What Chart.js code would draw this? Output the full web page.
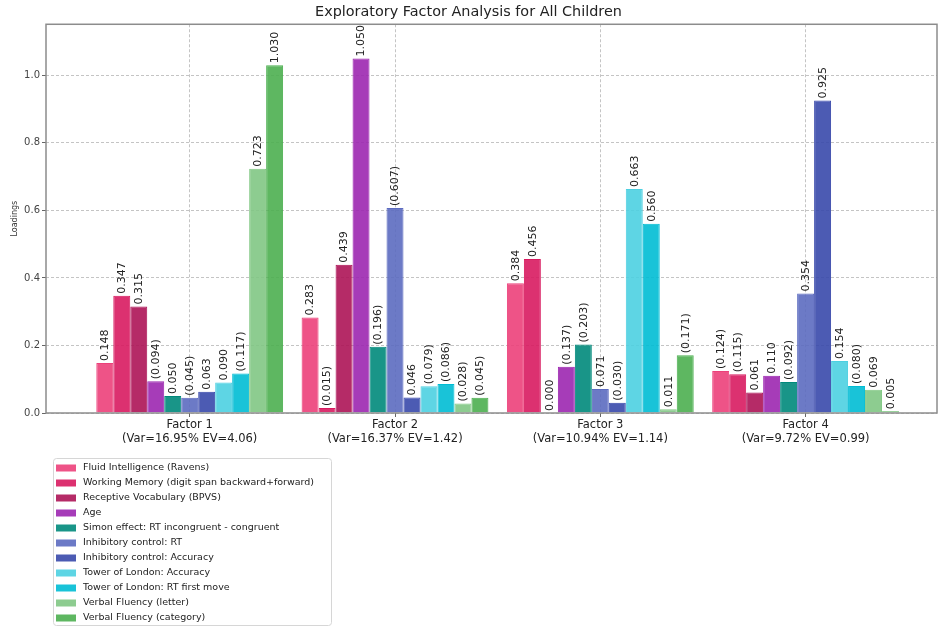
<!DOCTYPE html>
<html>
<head>
<meta charset="utf-8">
<script src="https://cdn.jsdelivr.net/npm/chart.js@4/dist/chart.umd.min.js"></script>
<style>
  html, body { margin: 0; padding: 0; background: #fff; }
  #wrap { width: 939px; height: 626px; }
</style>
</head>
<body>
<div id="wrap"><canvas id="efaChart" width="939" height="626"></canvas></div>
<script>
// factor labels (two lines under each group)
const factorNames = ['Factor 1', 'Factor 2', 'Factor 3', 'Factor 4'];
const factorStats = ['(Var=16.95% EV=4.06)', '(Var=16.37% EV=1.42)', '(Var=10.94% EV=1.14)', '(Var=9.72% EV=0.99)'];

const measureNames = [
    'Fluid Intelligence (Ravens)',
    'Working Memory (digit span backward+forward)',
    'Receptive Vocabulary (BPVS)',
    'Age',
    'Simon effect: RT incongruent - congruent',
    'Inhibitory control: RT',
    'Inhibitory control: Accuracy',
    'Tower of London: Accuracy',
    'Tower of London: RT first move',
    'Verbal Fluency (letter)',
    'Verbal Fluency (category)'
];
const measureColors = ['#EC407A', '#D81B60', '#AD1457', '#9C27B0', '#00897B', '#5C6BC0',
                       '#3949AB', '#4DD0E1', '#00BCD4', '#81C784', '#4CAF50'];

// signed loadings, one array per measure (Factor 1..4); bars use |loading|
const fluidIntelligence   = [0.148, 0.283, 0.384, -0.124];
const workingMemory       = [0.347, -0.015, 0.456, -0.115];
const receptiveVocabulary = [0.315, 0.439, 0.000, 0.061];
const age                 = [-0.094, 1.050, -0.137, 0.110];
const simonEffect         = [0.050, -0.196, -0.203, -0.092];
const inhibitoryRT        = [-0.045, -0.607, 0.071, 0.354];
const inhibitoryAccuracy  = [0.063, 0.046, -0.030, 0.925];
const towerAccuracy       = [0.090, -0.079, 0.663, 0.154];
const towerRTFirstMove    = [-0.117, -0.086, 0.560, -0.080];
const fluencyLetter       = [0.723, -0.028, 0.011, 0.069];
const fluencyCategory     = [1.030, -0.045, -0.171, 0.005];

const loadings = [fluidIntelligence, workingMemory, receptiveVocabulary, age, simonEffect,
                  inhibitoryRT, inhibitoryAccuracy, towerAccuracy, towerRTFirstMove,
                  fluencyLetter, fluencyCategory];

const yTicks = [0.0, 0.2, 0.4, 0.6, 0.8, 1.0];

const FONT = "'DejaVu Sans', sans-serif";

function withAlpha(hex, a) {
    const n = parseInt(hex.slice(1), 16);
    return `rgba(${(n >> 16) & 255}, ${(n >> 8) & 255}, ${n & 255}, ${a})`;
}

const datasets = measureNames.map((name, k) => ({
    label: name,
    data: loadings[k].map((v, i) => ({ x: i, y: Math.abs(v) })),
    signed: loadings[k],
    backgroundColor: withAlpha(measureColors[k], 0.9),
    borderColor: measureColors[k],
    borderWidth: 1,
    barPercentage: 1.0,
    categoryPercentage: 0.91
}));

// rotated value labels above every bar, negatives in parentheses
const valueLabels = {
    id: 'valueLabels',
    afterDatasetsDraw(chart) {
        const ctx = chart.ctx;
        ctx.save();
        ctx.font = `11px ${FONT}`;
        ctx.fillStyle = '#222';
        ctx.textAlign = 'left';
        ctx.textBaseline = 'middle';
        chart.data.datasets.forEach((ds, k) => {
            const meta = chart.getDatasetMeta(k);
            meta.data.forEach((bar, i) => {
                const v = ds.signed[i];
                const txt = v < 0 ? `(${Math.abs(v).toFixed(3)})` : v.toFixed(3);
                ctx.save();
                ctx.translate(bar.x + 0.5, bar.y - 2);
                ctx.rotate(-Math.PI / 2);
                ctx.fillText(txt, 0, 0);
                ctx.restore();
            });
        });
        ctx.restore();
    }
};

// box round the plot area
const frame = {
    id: 'frame',
    afterDatasetsDraw(chart) {
        const { ctx, chartArea: a } = chart;
        ctx.save();
        ctx.strokeStyle = '#8c8c8c';
        ctx.lineWidth = 1.5;
        ctx.strokeRect(a.left, a.top, a.right - a.left, a.bottom - a.top);
        ctx.restore();
    }
};

// single-column legend under the axis
const columnLegend = {
    id: 'columnLegend',
    afterDraw(chart) {
        const ctx = chart.ctx;
        const x0 = 53, y0 = 458, w = 278, h = 167, row = 15;
        ctx.save();
        ctx.fillStyle = 'rgba(255,255,255,0.9)';
        ctx.strokeStyle = '#d6d6d6';
        ctx.lineWidth = 1;
        ctx.beginPath();
        ctx.roundRect(x0 + 0.5, y0 + 0.5, w, h, 3);
        ctx.fill();
        ctx.stroke();
        ctx.font = `9.5px ${FONT}`;
        ctx.textBaseline = 'middle';
        chart.data.datasets.forEach((ds, k) => {
            const cy = y0 + 10 + k * row;
            ctx.fillStyle = ds.backgroundColor;
            ctx.fillRect(x0 + 3, cy - 3.5, 20, 7);
            ctx.fillStyle = '#222';
            ctx.fillText(ds.label, x0 + 30, cy);
        });
        ctx.restore();
    }
};

const gridStyle = {
    offset: false,
    color: '#c4c4c4',
    tickColor: '#666',
    tickLength: 4,
    tickBorderDash: []
};

new Chart(document.getElementById('efaChart'), {
    type: 'bar',
    data: { datasets },
    plugins: [valueLabels, frame, columnLegend],
    options: {
        responsive: false,
        animation: false,
        layout: { padding: { left: 0, right: 2, top: 0, bottom: 0 } },
        plugins: {
            legend: { display: false },
            tooltip: { enabled: false },
            title: {
                display: true,
                text: 'Exploratory Factor Analysis for All Children',
                color: '#222',
                font: { family: FONT, size: 14.4, weight: 'normal' },
                padding: { top: 4, bottom: 3 }
            }
        },
        scales: {
            x: {
                type: 'linear',
                min: -0.70,
                max: 3.64,
                offset: false,
                grid: gridStyle,
                border: { display: false, dash: [3, 2] },
                afterBuildTicks: s => { s.ticks = factorNames.map((_, i) => ({ value: i })); },
                afterFit: s => { s.height = 213; },
                ticks: {
                    padding: 1,
                    color: '#222',
                    font: { family: FONT, size: 11.5 },
                    callback: v => [factorNames[v], factorStats[v]]
                }
            },
            y: {
                min: 0,
                max: 1.151,
                grid: gridStyle,
                border: { display: false, dash: [3, 2] },
                afterBuildTicks: s => { s.ticks = yTicks.map(v => ({ value: v })); },
                afterFit: s => { s.width = 46; },
                title: {
                    display: true,
                    text: 'Loadings',
                    color: '#333',
                    font: { family: FONT, size: 8 },
                    padding: { top: 10, bottom: 0 }
                },
                ticks: {
                    padding: 2,
                    color: '#444',
                    font: { family: FONT, size: 10 },
                    callback: v => v.toFixed(1)
                }
            }
        }
    }
});
</script>
</body>
</html>
